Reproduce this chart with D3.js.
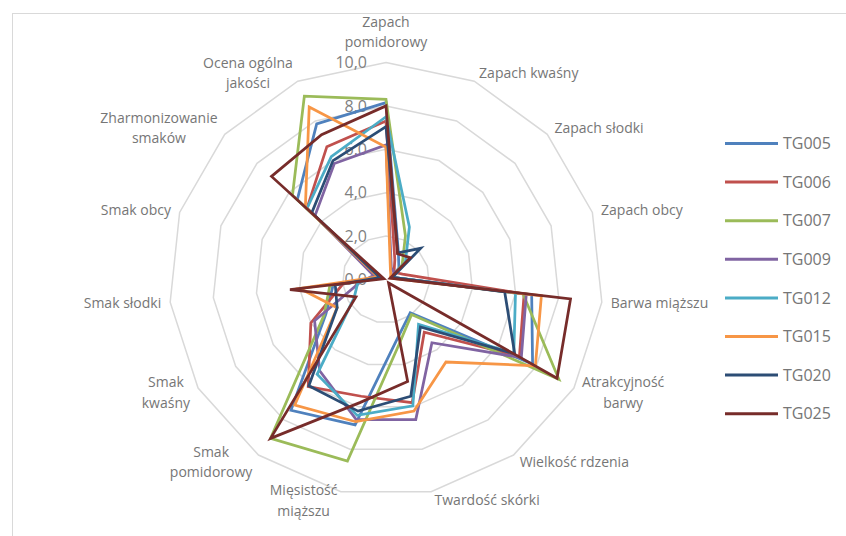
<!DOCTYPE html>
<html>
<head>
<meta charset="utf-8">
<script src="https://cdn.jsdelivr.net/npm/d3@7"></script>
<style>
  body { margin: 0; background: #fff; }
  text { font-family: "Open Sans", sans-serif; }
</style>
</head>
<body>
<svg id="chart" width="846" height="536"></svg>
<script>
// axes of the radar, in clockwise order from the top ("\n" = line break in the label)
const categories = [
  'Zapach\npomidorowy', 'Zapach kwaśny', 'Zapach słodki', 'Zapach obcy',
  'Barwa miąższu', 'Atrakcyjność\nbarwy', 'Wielkość rdzenia', 'Twardość skórki',
  'Mięsistość\nmiąższu', 'Smak\npomidorowy', 'Smak\nkwaśny', 'Smak słodki',
  'Smak obcy', 'Zharmonizowanie\nsmaków', 'Ocena ogólna\njakości'
]

const seriesNames = ['TG005', 'TG006', 'TG007', 'TG009', 'TG012', 'TG015', 'TG020', 'TG025']
const seriesColors = ['#4f81bd', '#c0504d', '#9bbb59', '#8064a2', '#4bacc6', '#f79646', '#2c4d75', '#772c2a']

const TG005 = [8.15, 1.4, 0.8, 0.3, 6.75, 7.8, 1.9, 2.7, 6.85, 7.45, 3.2, 2.45, 0.3, 5.5, 7.85]
const TG006 = [7.3, 1.0, 0.5, 0.8, 6.4, 7.1, 3.0, 5.8, 5.5, 6.1, 4.0, 2.0, 0.4, 4.9, 6.7]
const TG007 = [8.3, 2.2, 1.0, 0.3, 6.35, 9.2, 2.0, 3.0, 8.55, 9.05, 3.3, 2.6, 0.3, 5.8, 9.25]
const TG009 = [6.2, 0.6, 0.5, 0.3, 6.5, 7.2, 3.6, 6.6, 6.6, 5.2, 3.8, 1.2, 0.6, 4.4, 5.85]
const TG012 = [7.5, 2.65, 1.2, 0.3, 6.0, 6.8, 2.55, 5.95, 6.4, 5.4, 1.7, 1.3, 0.3, 4.9, 6.2]
const TG015 = [6.1, 0.5, 0.3, 0.2, 7.2, 7.95, 4.7, 6.2, 6.7, 7.15, 2.6, 4.0, 0.4, 5.0, 8.7]
const TG020 = [7.05, 1.35, 2.15, 0.3, 5.5, 6.85, 2.7, 5.5, 6.2, 6.05, 2.6, 2.35, 0.3, 4.6, 6.0]
const TG025 = [8.0, 1.3, 1.5, 0.2, 8.55, 9.1, 0.2, 4.8, 5.8, 9.05, 1.6, 4.45, 0.1, 7.1, 7.3]
const seriesValues = [TG005, TG006, TG007, TG009, TG012, TG015, TG020, TG025]

const tickValues = [0, 2, 4, 6, 8, 10]

const svg = d3.select('#chart')
const cx = 386, cy = 279.5, R = 217
const step = 2 * Math.PI / categories.length
const r = d3.scaleLinear().domain([0, 10]).range([0, R])

// chart area border (only top and left edges fall inside the picture)
svg.append('rect')
  .attr('x', 12.5).attr('y', 13.5)
  .attr('width', 900).attr('height', 600)
  .attr('fill', 'none').attr('stroke', '#d9d9d9').attr('stroke-width', 1)

const plot = svg.append('g').attr('transform', `translate(${cx},${cy})`)

// gridline polygons
const ring = d3.lineRadial()
  .angle((d, i) => i * step)
  .curve(d3.curveLinearClosed)

plot.selectAll('path.grid')
  .data(tickValues.filter(t => t > 0))
  .join('path')
  .attr('class', 'grid')
  .attr('d', t => ring.radius(r(t))(categories))
  .attr('fill', 'none')
  .attr('stroke', '#d9d9d9')
  .attr('stroke-width', 1.5)

// tick labels on the vertical axis
plot.selectAll('text.tick')
  .data(tickValues)
  .join('text')
  .attr('class', 'tick')
  .attr('x', -19)
  .attr('y', t => -r(t))
  .attr('dy', '0.35em')
  .attr('text-anchor', 'end')
  .attr('font-size', 16)
  .attr('fill', '#7f7f7f')
  .text(t => d3.format('.1f')(t).replace('.', ','))

// category labels just outside the outer ring
const lh = 20.5
categories.forEach((cat, i) => {
  const a = i * step, s = Math.sin(a), c = Math.cos(a)
  const vx = R * s, vy = -R * c
  const lines = cat.split('\n')
  const g = plot.append('g')
  const texts = lines.map(l => g.append('text')
    .attr('font-size', 14)
    .attr('fill', '#767676')
    .attr('text-anchor', 'middle')
    .attr('dy', '0.35em')
    .text(l))
  const w = d3.max(texts, t => t.node().getComputedTextLength())
  const sign = Math.abs(s) < 0.01 ? 0 : Math.sign(s)
  const bx = vx + sign * (2 + 7 * Math.abs(s) + w / 2)
  const by = sign === 0 ? vy - 10 - lines.length * lh / 2 : vy - 9 * c
  texts.forEach((t, k) => t.attr('x', bx).attr('y', by + (k - (lines.length - 1) / 2) * lh))
})

// series
const radar = d3.lineRadial()
  .angle((d, i) => i * step)
  .radius(d => r(d))
  .curve(d3.curveLinearClosed)

plot.selectAll('path.series')
  .data(seriesValues)
  .join('path')
  .attr('class', 'series')
  .attr('d', d => radar(d))
  .attr('fill', 'none')
  .attr('stroke', (d, i) => seriesColors[i])
  .attr('stroke-width', 2.75)
  .attr('stroke-linejoin', 'miter')

// legend
const legend = svg.append('g').attr('transform', 'translate(725,143.5)')
const item = legend.selectAll('g')
  .data(seriesNames)
  .join('g')
  .attr('transform', (d, i) => `translate(0,${i * 38.6})`)
item.append('line')
  .attr('x1', 0).attr('x2', 53)
  .attr('stroke', (d, i) => seriesColors[i])
  .attr('stroke-width', 3)
item.append('text')
  .attr('x', 58)
  .attr('dy', '0.35em')
  .attr('font-size', 16)
  .attr('fill', '#767676')
  .text(d => d)
</script>
</body>
</html>
